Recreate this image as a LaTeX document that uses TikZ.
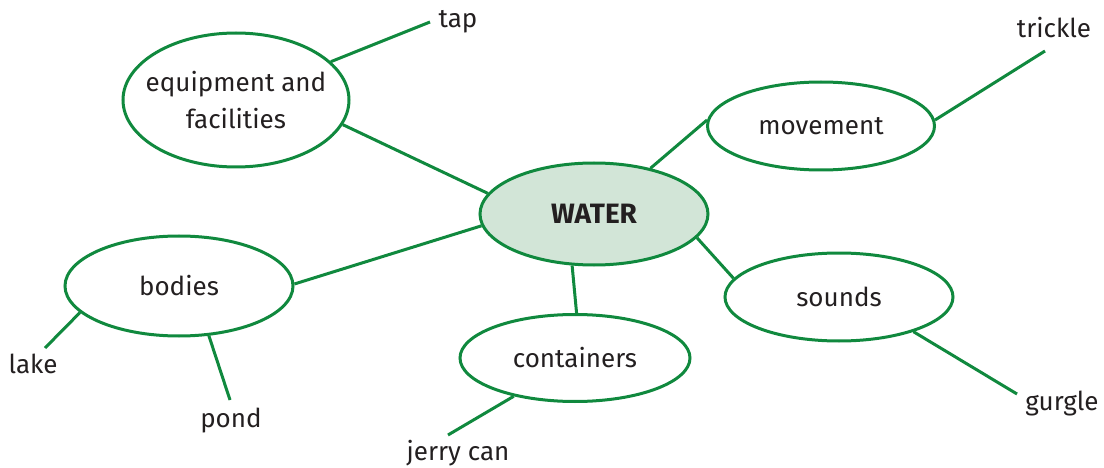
\documentclass[tikz,border=0pt]{standalone}
\usepackage{fontspec}
\setmainfont{Fira Sans}
\usetikzlibrary{shapes.geometric}
\definecolor{leafgreen}{HTML}{10893E}
\definecolor{paleleaf}{HTML}{D2E5D7}
\definecolor{inkgrey}{HTML}{231F20}
\begin{document}
\begin{tikzpicture}[x=1pt,y=1pt,
  bubble/.style={ellipse, draw=leafgreen, line width=3pt, inner sep=0pt,
    align=center, font=\fontsize{26}{37}\selectfont, text=inkgrey},
  link/.style={draw=leafgreen, line width=3pt},
  word/.style={font=\fontsize{26}{37}\selectfont, text=inkgrey, inner sep=0pt}]
\useasboundingbox (0,0) rectangle (1104,-468);

% central topic
\node[bubble, fill=paleleaf, minimum width=228pt, minimum height=102pt,
  font=\bfseries\fontsize{28}{34}\selectfont] (water) at (594,-214) {WATER};

% sub-topics
\node[bubble, inner xsep=-12pt, inner ysep=8pt, minimum width=226pt, minimum height=134pt] (equip) at (236,-100) {equipment and\\facilities};
\node[bubble, minimum width=227pt, minimum height=88pt] (move) at (821,-126) {movement};
\node[bubble, minimum width=228pt, minimum height=100pt] (bodies) at (179,-286) {bodies};
\node[bubble, minimum width=228pt, minimum height=88pt] (sounds) at (839,-297) {sounds};
\node[bubble, minimum width=230pt, minimum height=87pt] (cont) at (575,-358) {containers};

% leaf words
\node[word] (tap) at (458,-22) {tap};
\node[word] (trickle) at (1054,-28) {trickle};
\node[word] (gurgle) at (1062,-404) {gurgle};
\node[word] (jerry) at (458,-453) {jerry can};
\node[word] (lake) at (33,-364) {lake};
\node[word] (pond) at (231,-421) {pond};

% free ends of the leaf connectors
\coordinate (tapend) at (430,-22);
\coordinate (trickleend) at (1045,-51);
\coordinate (gurgleend) at (1017,-394);
\coordinate (jerryend) at (448,-435);
\coordinate (lakeend) at (45,-348);
\coordinate (pondend) at (230,-400);

% connectors between bubbles
\draw[link] (equip.-13.5) -- (water.169.6);
\draw[link] (bodies.1.5) -- (water.186);
\draw[link] (water.39) -- (move.177);
\draw[link] (water.-13) -- (sounds.170.5);
\draw[link] (water.247) -- (cont.88);

% connectors to leaf words
\draw[link] (equip.22.4) -- (tapend);
\draw[link] (move.3) -- (trickleend);
\draw[link] (sounds.335.6) -- (gurgleend);
\draw[link] (cont.212.8) -- (jerryend);
\draw[link] (bodies.195) -- (lakeend);
\draw[link] (bodies.301) -- (pondend);
\end{tikzpicture}
\end{document}
